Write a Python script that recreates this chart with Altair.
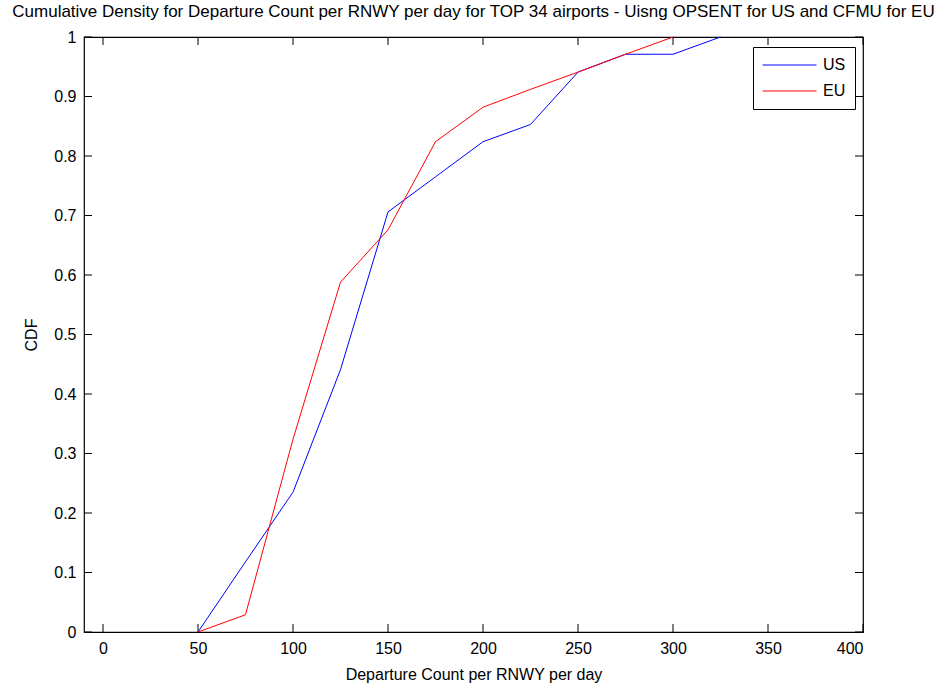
import altair as alt
import pandas as pd

# ---- data ----
us_x = [50, 75, 100, 125, 150, 175, 200, 225, 250, 275, 300, 325]
us_cdf = [0.0, 0.118, 0.235, 0.441, 0.706, 0.765, 0.824, 0.853, 0.941, 0.971, 0.971, 1.0]
eu_x = [50, 75, 100, 125, 150, 175, 200, 225, 250, 275, 300]
eu_cdf = [0.0, 0.029, 0.324, 0.588, 0.676, 0.824, 0.882, 0.912, 0.941, 0.971, 1.0]
series_names = ["US", "EU"]
series_colors = ["#0000ff", "#ff0000"]
x_ticks = [0, 50, 100, 150, 200, 250, 300, 350, 400]
y_ticks = [0, 0.1, 0.2, 0.3, 0.4, 0.5, 0.6, 0.7, 0.8, 0.9, 1]

FONT = "Liberation Sans"
W, H = 779, 595
TICK = 8

df = pd.concat([
    pd.DataFrame({"x": us_x, "y": us_cdf, "series": "US"}),
    pd.DataFrame({"x": eu_x, "y": eu_cdf, "series": "EU"}),
])
xt = pd.DataFrame({"x": x_ticks})
yt = pd.DataFrame({"y": y_ticks})

xs = alt.Scale(domain=[-10, 400], nice=False, zero=False)
ys = alt.Scale(domain=[0, 1], nice=False, zero=False)
xaxis = alt.Axis(values=x_ticks, ticks=False, domain=False, grid=False,
                 labelPadding=8, title="Departure Count per RNWY per day",
                 titlePadding=10, format="d")
yaxis = alt.Axis(values=y_ticks, ticks=False, domain=False, grid=False,
                 labelPadding=8, title="CDF", titlePadding=14, format="~g")

lines = alt.Chart(df).mark_line(strokeWidth=1).encode(
    x=alt.X("x:Q", scale=xs, axis=xaxis),
    y=alt.Y("y:Q", scale=ys, axis=yaxis),
    color=alt.Color("series:N",
                    scale=alt.Scale(domain=series_names, range=series_colors),
                    sort=series_names,
                    legend=alt.Legend(
                        title=None, orient="none", legendX=669, legendY=10,
                        strokeColor="black", fillColor="white", padding=9,
                        symbolType="stroke", symbolSize=2916,
                        symbolStrokeWidth=1, clipHeight=18, rowPadding=8,
                        labelFontSize=16, labelFont=FONT, labelColor="black",
                        labelOffset=6, cornerRadius=0)),
    detail="series:N",
)

tick_bottom = alt.Chart(xt).mark_rule(color="black", strokeWidth=1).encode(
    x=alt.X("x:Q", scale=xs, axis=xaxis), y=alt.value(H), y2=alt.value(H - TICK))
tick_top = alt.Chart(xt).mark_rule(color="black", strokeWidth=1).encode(
    x=alt.X("x:Q", scale=xs, axis=xaxis), y=alt.value(0), y2=alt.value(TICK))
tick_left = alt.Chart(yt).mark_rule(color="black", strokeWidth=1).encode(
    y=alt.Y("y:Q", scale=ys, axis=yaxis), x=alt.value(0), x2=alt.value(TICK))
tick_right = alt.Chart(yt).mark_rule(color="black", strokeWidth=1).encode(
    y=alt.Y("y:Q", scale=ys, axis=yaxis), x=alt.value(W), x2=alt.value(W - TICK))

chart = alt.layer(tick_bottom, tick_top, tick_left, tick_right, lines).properties(
    width=W, height=H,
    title=alt.TitleParams(
        "Cumulative Density for Departure Count per RNWY per day for TOP 34 airports - Uisng OPSENT for US and CFMU for EU",
        font=FONT, fontSize=17, fontWeight="normal", color="black", offset=8),
    autosize=alt.AutoSizeParams(type="none"),
    padding={"left": 84, "top": 37, "right": 76, "bottom": 57},
    background="white",
).configure_view(
    stroke="black", strokeWidth=1.2
).configure_axis(
    labelFont=FONT, labelFontSize=16, labelColor="black",
    titleFont=FONT, titleFontSize=16, titleFontWeight="normal", titleColor="black",
)

chart.save("out.html", embed_options={"renderer": "svg", "actions": False})
